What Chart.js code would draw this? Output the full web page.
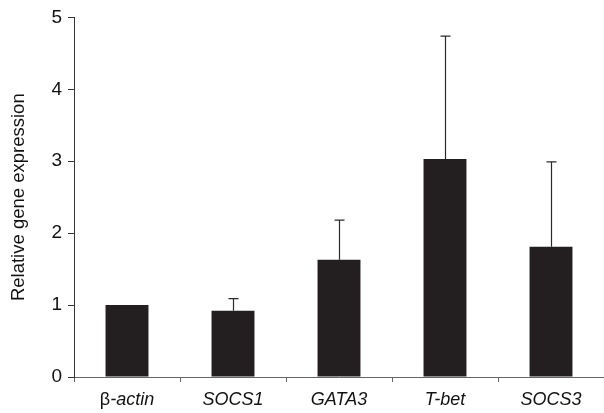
<!DOCTYPE html>
<html>
<head>
<meta charset="utf-8">
<script src="https://cdn.jsdelivr.net/npm/chart.js@4"></script>
<style>
  body { margin: 0; background: #fff; }
  #wrap { width: 604px; height: 413px; }
</style>
</head>
<body>
<div id="wrap"><canvas id="chart"></canvas></div>
<script>
// values
const genes = ['β-actin', 'SOCS1', 'GATA3', 'T-bet', 'SOCS3'];
const means = [1.0, 0.92, 1.63, 3.03, 1.81];
const errors = [0.0, 0.17, 0.55, 1.71, 1.18];
const yTicks = [0, 1, 2, 3, 4, 5];

const FONT = 'Liberation Sans, Arial, sans-serif';
const LABEL_SIZE = 18;

// upper error bars + mixed-style gene labels
const extras = {
  id: 'extras',
  afterDatasetsDraw(chart) {
    const ctx = chart.ctx;
    const x = chart.scales.x, y = chart.scales.y;
    ctx.save();
    ctx.strokeStyle = '#2a2a2a';
    ctx.lineWidth = 1.2;
    means.forEach((m, i) => {
      if (!errors[i]) return;
      const px = Math.round(x.getPixelForValue(i)) + 0.5;
      const top = y.getPixelForValue(m + errors[i]);
      ctx.beginPath();
      ctx.moveTo(px, y.getPixelForValue(m));
      ctx.lineTo(px, top);
      ctx.moveTo(px - 5, top);
      ctx.lineTo(px + 5, top);
      ctx.stroke();
    });
    ctx.restore();
  },
  afterDraw(chart) {
    const ctx = chart.ctx;
    const x = chart.scales.x;
    const ly = chart.chartArea.bottom + 23;
    ctx.save();
    ctx.fillStyle = '#111';
    ctx.textBaseline = 'middle';
    genes.forEach((g, i) => {
      const cx = x.getPixelForValue(i);
      const it = 'italic ' + LABEL_SIZE + 'px ' + FONT;
      const parts = g.startsWith('β')
        ? [['β', LABEL_SIZE + 'px ' + FONT], [g.slice(1), it]]
        : [[g, it]];
      let w = 0;
      parts.forEach(p => { ctx.font = p[1]; w += ctx.measureText(p[0]).width; });
      let sx = cx - w / 2;
      ctx.textAlign = 'left';
      parts.forEach(p => {
        ctx.font = p[1];
        ctx.fillText(p[0], sx, ly);
        sx += ctx.measureText(p[0]).width;
      });
    });
    ctx.restore();
  }
};

new Chart(document.getElementById('chart'), {
  type: 'bar',
  data: {
    labels: genes,
    datasets: [{
      data: means,
      backgroundColor: '#231f20',
      borderWidth: 0,
      categoryPercentage: 1.0,
      barPercentage: 0.405
    }]
  },
  options: {
    responsive: true,
    maintainAspectRatio: false,
    animation: false,
    layout: { padding: { top: 17, right: 0, bottom: 0, left: 0 } },
    plugins: { legend: { display: false }, tooltip: { enabled: false } },
    scales: {
      x: {
        afterFit(s) { s.height = 36; },
        grid: { drawOnChartArea: false, drawTicks: true, tickLength: 5, color: '#666', offset: true },
        border: { color: '#666', width: 1 },
        ticks: { display: false }
      },
      y: {
        min: 0,
        max: 5,
        afterFit(s) { s.width = 74; },
        afterBuildTicks(s) { s.ticks = yTicks.map(v => ({ value: v })); },
        grid: { drawOnChartArea: false, drawTicks: true, tickLength: 6, color: '#333' },
        border: { color: '#333', width: 1 },
        ticks: { color: '#111', padding: 6, font: { family: FONT, size: 19 } },
        title: {
          display: true,
          text: 'Relative gene expression',
          color: '#111',
          font: { family: FONT, size: 18.5 },
          padding: { top: 8, bottom: 0 }
        }
      }
    }
  },
  plugins: [extras]
});
</script>
</body>
</html>
